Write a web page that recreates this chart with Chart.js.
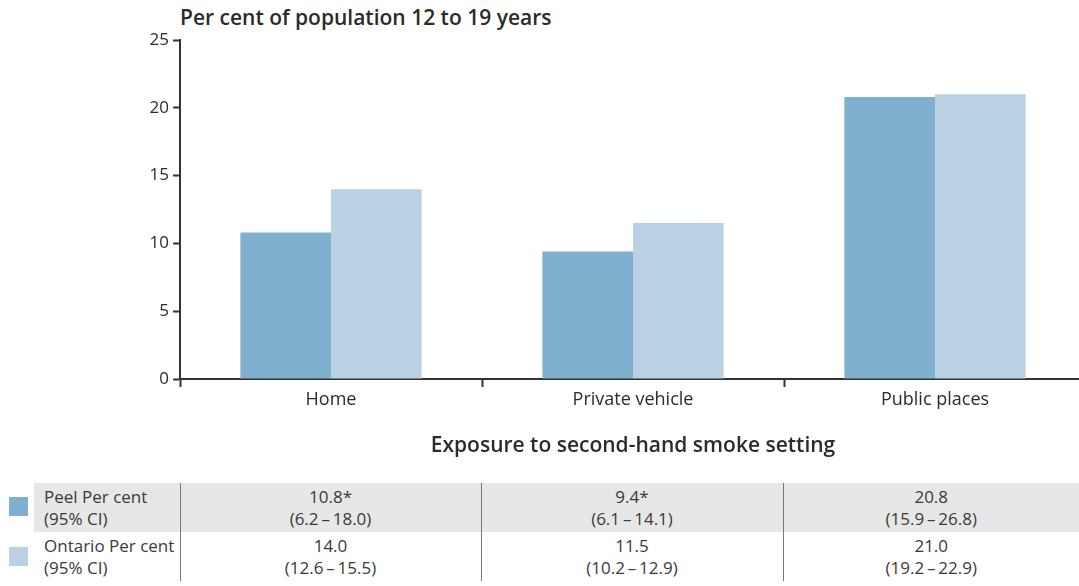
<!DOCTYPE html>
<html>
<head>
<meta charset="utf-8">
<script src="https://cdn.jsdelivr.net/npm/chart.js@4/dist/chart.umd.min.js"></script>
<style>
  html, body { margin: 0; padding: 0; background: #fff; }
  body { width: 1079px; height: 586px; position: relative; overflow: hidden; font-family: "Open Sans", Lato, sans-serif; color: #333; }
  #wrap { position: absolute; left: 0; top: 0; width: 1090px; height: 460px; }
  #title { position: absolute; left: 180px; top: 3px; font-size: 21px; font-weight: 600; color: #2b2b2b; }
  #tbl { position: absolute; left: 34px; top: 483px; width: 1045px; border-collapse: collapse; font-size: 17px; color: #3a3a3a; }
  #tbl td { padding: 0; height: 49px; line-height: 22px; text-align: center; vertical-align: middle; white-space: nowrap; }
  #tbl td.lbl { text-align: left; padding-left: 10px; }
  #tbl td + td { border-left: 1.5px solid #777; }
  #tbl tr.shade td { background: #e6e7e6; }
  .sw { position: absolute; left: 9px; width: 19px; height: 19px; }
</style>
</head>
<body>
<div id="title">Per cent of population 12 to 19 years</div>
<div id="wrap"><canvas id="chart" width="1090" height="460"></canvas></div>
<div class="sw" id="sw0" style="top:497px"></div>
<div class="sw" id="sw1" style="top:547px"></div>
<table id="tbl">
  <colgroup><col style="width:146px"><col style="width:301px"><col style="width:302px"><col style="width:296px"></colgroup>
  <tbody id="tbody"></tbody>
</table>
<script>
// chart data
const categories = ['Home', 'Private vehicle', 'Public places'];
const peelValues = [10.8, 9.4, 20.8];
const peelLow = [6.2, 6.1, 15.9];
const peelHigh = [18.0, 14.1, 26.8];
const peelFlag = ['*', '*', ''];
const ontarioValues = [14.0, 11.5, 21.0];
const ontarioLow = [12.6, 10.2, 19.2];
const ontarioHigh = [15.5, 12.9, 22.9];
const ontarioFlag = ['', '', ''];
const yTicks = [0, 5, 10, 15, 20, 25];

const peelColor = '#7fb0cd';
const ontarioColor = '#b9d1e3';
const axisColor = '#333';
const font = '"Open Sans", Lato, sans-serif';

// table under the chart, built from the same arrays
const rows = [
  { name: 'Peel Per cent', vals: peelValues, lo: peelLow, hi: peelHigh, flag: peelFlag, cls: 'shade' },
  { name: 'Ontario Per cent', vals: ontarioValues, lo: ontarioLow, hi: ontarioHigh, flag: ontarioFlag, cls: '' }
];
const tbody = document.getElementById('tbody');
rows.forEach(r => {
  const tr = document.createElement('tr');
  if (r.cls) tr.className = r.cls;
  let html = '<td class="lbl">' + r.name + '<br>(95% CI)</td>';
  r.vals.forEach((v, i) => {
    html += '<td>' + v.toFixed(1) + r.flag[i] + '<br>(' + r.lo[i].toFixed(1) + '\u2009\u2013\u2009' + r.hi[i].toFixed(1) + ')</td>';
  });
  tr.innerHTML = html;
  tbody.appendChild(tr);
});
document.getElementById('sw0').style.background = peelColor;
document.getElementById('sw1').style.background = ontarioColor;

const ctx = document.getElementById('chart');
new Chart(ctx, {
  type: 'bar',
  data: {
    labels: categories,
    datasets: [
      { label: 'Peel', data: peelValues, backgroundColor: peelColor },
      { label: 'Ontario', data: ontarioValues, backgroundColor: ontarioColor }
    ]
  },
  options: {
    responsive: false,
    animation: false,
    layout: { padding: { top: 40, right: 4, left: 0, bottom: 0 } },
    datasets: { bar: { categoryPercentage: 0.6, barPercentage: 1.0 } },
    plugins: { legend: { display: false }, tooltip: { enabled: false } },
    scales: {
      x: {
        grid: { offset: true, drawOnChartArea: false, tickLength: 8, tickColor: axisColor, tickWidth: 2 },
        border: { color: axisColor, width: 2 },
        ticks: { color: '#2b2b2b', font: { family: font, size: 18 }, padding: 2 },
        title: {
          display: true,
          text: 'Exposure to second-hand smoke setting',
          color: '#2b2b2b',
          font: { family: font, size: 21, weight: '600' },
          padding: { top: 0, bottom: 1 }
        },
        afterFit: s => { s.height = 81; }
      },
      y: {
        min: 0,
        max: 25,
        afterBuildTicks: s => { s.ticks = yTicks.map(v => ({ value: v })); },
        grid: { drawOnChartArea: false, tickLength: 7, tickColor: axisColor, tickWidth: 2 },
        border: { color: axisColor, width: 2 },
        ticks: { color: '#2b2b2b', font: { family: font, size: 17 }, padding: 4 },
        afterFit: s => { s.width = 180; }
      }
    }
  }
});
</script>
</body>
</html>
